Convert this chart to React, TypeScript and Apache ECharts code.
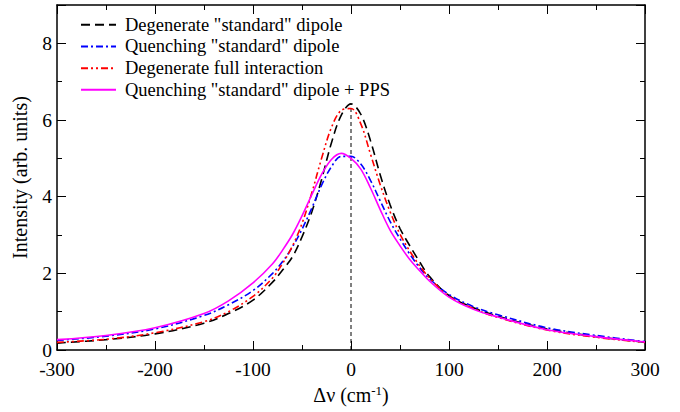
import React, { useEffect, useRef } from "react";
import * as echarts from "echarts";

const xs = [-300, -250, -200, -150, -125, -100, -80, -70, -60, -50, -40, -30, -20, -10, 0, 10, 20, 30, 40, 50, 60, 70, 80, 100, 125, 150, 200, 250, 300];
const degStd = [0.18, 0.27, 0.42, 0.7, 0.95, 1.3, 1.77, 2.08, 2.42, 2.95, 3.6, 4.45, 5.4, 6.12, 6.42, 6.15, 5.45, 4.55, 3.78, 3.17, 2.72, 2.3, 1.92, 1.42, 1.1, 0.88, 0.55, 0.35, 0.2];
const quenchStd = [0.25, 0.36, 0.55, 0.9, 1.18, 1.55, 2.0, 2.3, 2.68, 3.15, 3.7, 4.3, 4.78, 5.05, 5.05, 4.85, 4.42, 3.88, 3.35, 2.9, 2.5, 2.15, 1.86, 1.45, 1.13, 0.92, 0.58, 0.38, 0.22];
const degFull = [0.2, 0.28, 0.45, 0.74, 1.0, 1.4, 1.88, 2.25, 2.7, 3.3, 4.1, 5.0, 5.8, 6.25, 6.3, 5.9, 5.1, 4.3, 3.6, 3.02, 2.58, 2.2, 1.88, 1.4, 1.08, 0.85, 0.52, 0.33, 0.2];
const quenchPPS = [0.27, 0.38, 0.58, 0.95, 1.28, 1.75, 2.25, 2.6, 3.0, 3.5, 4.05, 4.58, 4.97, 5.13, 5.0, 4.72, 4.22, 3.65, 3.12, 2.72, 2.36, 2.07, 1.8, 1.38, 1.06, 0.86, 0.53, 0.35, 0.21];
const seriesNames = [
  'Degenerate "standard" dipole',
  'Quenching "standard" dipole',
  "Degenerate full interaction",
  'Quenching "standard" dipole + PPS',
];
const markerLine = [[0, 0], [0, 6.42]];

const FONT = "Liberation Serif";

export default function App() {
  const ref = useRef<HTMLDivElement>(null);
  useEffect(() => {
    document.body.style.margin = "0";
    const chart = echarts.init(ref.current!, null, { renderer: "svg" });
    const pair = (v: number[]) => xs.map((x, i) => [x, v[i]]);
    const axisCommon = {
      axisLine: { onZero: false, lineStyle: { color: "#000", width: 1.5 } },
      axisTick: { inside: true, length: 9, lineStyle: { color: "#000", width: 1 } },
      minorTick: { show: true, splitNumber: 2, length: 5, lineStyle: { color: "#000" } },
      splitLine: { show: false },
    };
    const mkLine = (name: string, data: number[], color: string, type: any, width = 1.6) => ({
      name,
      type: "line",
      data: pair(data),
      smooth: 0.35,
      symbol: "none",
      lineStyle: { color, type, width },
      itemStyle: { color },
    });
    chart.setOption({
      animation: false,
      backgroundColor: "#fff",
      textStyle: { fontFamily: FONT },
      grid: { left: 57, right: 35, top: 5, bottom: 62 },
      legend: {
        orient: "vertical",
        left: 80,
        top: 15,
        padding: 0,
        itemWidth: 35,
        itemHeight: 14,
        itemGap: 2.2,
        itemStyle: { opacity: 0 },
        textStyle: { fontFamily: FONT, fontSize: 18.5, lineHeight: 19.5, color: "#000", padding: [0, 0, 0, 4] },
        data: seriesNames,
      },
      xAxis: [
        {
          type: "value",
          min: -300,
          max: 300,
          interval: 100,
          ...axisCommon,
          axisLabel: { fontFamily: FONT, fontSize: 19.5, lineHeight: 20, color: "#000", margin: 9 },
          name: "{a|Δν (cm}{b|-1}{a|)}",
          nameLocation: "middle",
          nameGap: 32,
          nameTextStyle: {
            rich: {
              a: { fontFamily: FONT, fontSize: 20, color: "#000" },
              b: { fontFamily: FONT, fontSize: 13, color: "#000", verticalAlign: "top", padding: [0, 0, 10, 0] },
            },
          },
        },
        {
          type: "value",
          position: "top",
          min: -300,
          max: 300,
          interval: 100,
          ...axisCommon,
          axisLabel: { show: false },
        },
      ],
      yAxis: [
        {
          type: "value",
          min: 0,
          max: 9,
          interval: 2,
          ...axisCommon,
          axisLabel: { fontFamily: FONT, fontSize: 19.5, lineHeight: 15, color: "#000", margin: 5, showMaxLabel: false },
          name: "Intensity (arb. units)",
          nameLocation: "middle",
          nameGap: 27,
          nameTextStyle: { fontFamily: FONT, fontSize: 20, color: "#000" },
        },
        {
          type: "value",
          position: "right",
          min: 0,
          max: 9,
          interval: 2,
          ...axisCommon,
          axisLabel: { show: false },
        },
      ],
      series: [
        {
          name: "zero",
          type: "line",
          data: markerLine,
          symbol: "none",
          lineStyle: { color: "#000", type: [4, 3], width: 1 },
          silent: true,
        },
        mkLine(seriesNames[0], degStd, "#000000", [9, 5]),
        mkLine(seriesNames[1], quenchStd, "#0000ff", [7, 3, 2, 3]),
        mkLine(seriesNames[2], degFull, "#ff0000", [7, 3, 2, 3, 2, 3]),
        mkLine(seriesNames[3], quenchPPS, "#ff00ff", "solid"),
      ],
    });
    return () => chart.dispose();
  }, []);
  return <div ref={ref} style={{ width: 680, height: 412 }} />;
}
